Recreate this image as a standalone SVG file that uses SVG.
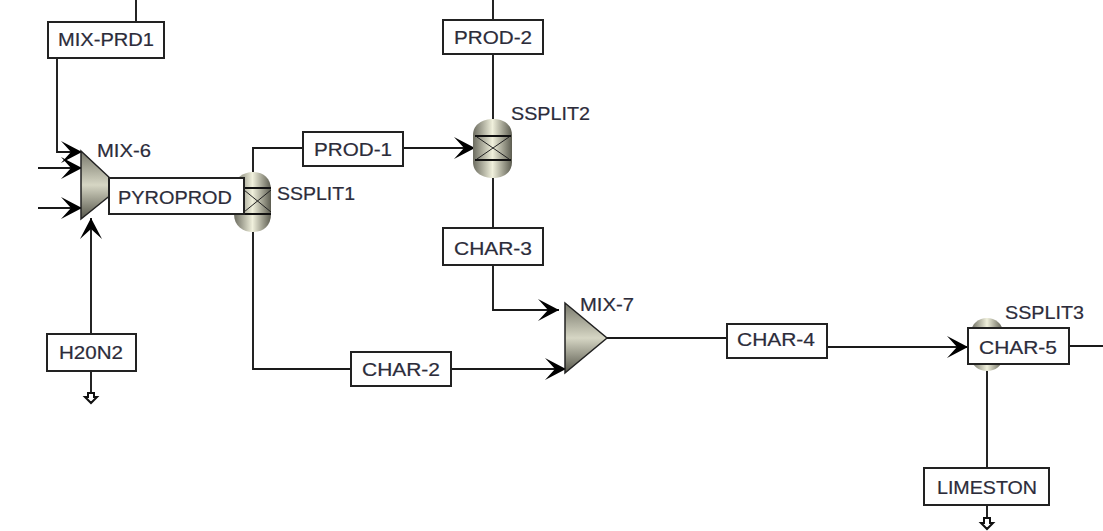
<svg xmlns="http://www.w3.org/2000/svg" width="1103" height="531" viewBox="0 0 1103 531">
<style>
.c{fill:none;stroke:#1a1a1a;stroke-width:1.9}
.b{fill:#fff;stroke:#222;stroke-width:2}
.t{font-family:"Liberation Sans",Arial,sans-serif;font-size:18.5px;fill:#2c2c3a;text-anchor:middle;stroke:#2c2c3a;stroke-width:.2}
.l{font-family:"Liberation Sans",Arial,sans-serif;font-size:18.5px;fill:#2c2c3a;stroke:#2c2c3a;stroke-width:.2}
.k{fill:none;stroke:#111;stroke-width:1.8}
.x{fill:none;stroke:#222;stroke-width:1}
.o{fill:#fff;stroke:#111;stroke-width:2}
</style>
<defs>
<marker id="a" markerUnits="userSpaceOnUse" markerWidth="26" markerHeight="28" refX="24" refY="13" orient="auto">
<path d="M3 2L24 13L3 24L13 13Z" fill="#000"/>
</marker>
<linearGradient id="m" x1="0" y1="0" x2="0" y2="1">
<stop offset="0" stop-color="#77776a"/><stop offset=".5" stop-color="#d6d6c4"/><stop offset="1" stop-color="#55554a"/>
</linearGradient>
<linearGradient id="v" x1="0" y1="0" x2="1" y2="0">
<stop offset="0" stop-color="#6c6c60"/><stop offset=".5" stop-color="#f0f0dc"/><stop offset="1" stop-color="#5c5c50"/>
</linearGradient>
</defs>
<g id="connectors">
<path class="c" d="M136 0V22"/>
<path class="c" d="M57 58V152H82" marker-end="url(#a)"/>
<path class="c" d="M38 168H82" marker-end="url(#a)"/>
<path class="c" d="M38 208H82" marker-end="url(#a)"/>
<path class="c" d="M91 334V218" marker-end="url(#a)"/>
<path class="c" d="M91 371V392"/>
<path class="c" d="M253 172V148H303"/>
<path class="c" d="M403 148H475" marker-end="url(#a)"/>
<path class="c" d="M493 0V20M493 54V119M493 178V228"/>
<path class="c" d="M493 265V310H559" marker-end="url(#a)"/>
<path class="c" d="M253 232V369H351"/>
<path class="c" d="M451 369H566" marker-end="url(#a)"/>
<path class="c" d="M607 338H727"/>
<path class="c" d="M827 347H968" marker-end="url(#a)"/>
<path class="c" d="M1069 346H1103"/>
<path class="c" d="M987 370V468M987 505V518"/>
<path class="o" d="M88 393H94V397H97L91 403L85 397H88Z"/>
<path class="o" d="M984 518H990V523H993L987 529L981 523H984Z"/>
</g>
<g id="MIX-6">
<path d="M81 151L112 180V194L81 219Z" fill="url(#m)" stroke="#222" stroke-width="1.5"/>
<text class="l" x="97" y="157" textLength="54" lengthAdjust="spacingAndGlyphs">MIX-6</text>
</g>
<g id="MIX-7">
<path d="M565 303L607 338L565 373Z" fill="url(#m)" stroke="#222" stroke-width="1.5"/>
<text class="l" x="580" y="311" textLength="54" lengthAdjust="spacingAndGlyphs">MIX-7</text>
</g>
<g id="SSPLIT1">
<path d="M234 190C234 178 243 172 253 172C263 172 271 178 271 190V214C271 226 263 232 253 232C243 232 234 226 234 214Z" fill="url(#v)"/>
<path class="k" d="M244 188H271M244 214H271"/>
<path class="x" d="M244 190L271 212M244 212L271 190"/>
<text class="l" x="277" y="200" textLength="78" lengthAdjust="spacingAndGlyphs">SSPLIT1</text>
</g>
<g id="SSPLIT2">
<path d="M473 135C473 124 483 119 493 119C503 119 512 124 512 135V162C512 173 503 178 493 178C483 178 473 173 473 162Z" fill="url(#v)"/>
<path class="k" d="M475 136H511M475 160H511"/>
<path class="x" d="M477 137L509 159M477 159L509 137"/>
<text class="l" x="511" y="120" textLength="79" lengthAdjust="spacingAndGlyphs">SSPLIT2</text>
</g>
<g id="SSPLIT3">
<path d="M971 334C971 323 979 318 987 318C995 318 1003 323 1003 334V356C1003 366 995 371 987 371C979 371 971 366 971 356Z" fill="url(#v)"/>
<text class="l" x="1005" y="319" textLength="79" lengthAdjust="spacingAndGlyphs">SSPLIT3</text>
</g>
<g id="MIX-PRD1"><rect class="b" x="48" y="22" width="116" height="36"/><text class="t" x="106" y="46" textLength="96" lengthAdjust="spacingAndGlyphs">MIX-PRD1</text></g>
<g id="PROD-2"><rect class="b" x="443" y="20" width="100" height="34"/><text class="t" x="493" y="44" textLength="78" lengthAdjust="spacingAndGlyphs">PROD-2</text></g>
<g id="PROD-1"><rect class="b" x="303" y="132" width="100" height="34"/><text class="t" x="353" y="156" textLength="78" lengthAdjust="spacingAndGlyphs">PROD-1</text></g>
<g id="PYROPROD"><rect class="b" x="109" y="178" width="135" height="36"/><text class="t" x="175" y="204" textLength="114" lengthAdjust="spacingAndGlyphs">PYROPROD</text></g>
<g id="H20N2"><rect class="b" x="47" y="334" width="89" height="37"/><text class="t" x="91" y="359" textLength="64" lengthAdjust="spacingAndGlyphs">H20N2</text></g>
<g id="CHAR-2"><rect class="b" x="351" y="352" width="100" height="34"/><text class="t" x="401" y="376" textLength="78" lengthAdjust="spacingAndGlyphs">CHAR-2</text></g>
<g id="CHAR-3"><rect class="b" x="443" y="228" width="100" height="37"/><text class="t" x="493" y="255" textLength="78" lengthAdjust="spacingAndGlyphs">CHAR-3</text></g>
<g id="CHAR-4"><rect class="b" x="727" y="324" width="100" height="34"/><text class="t" x="776" y="346" textLength="78" lengthAdjust="spacingAndGlyphs">CHAR-4</text></g>
<g id="CHAR-5"><rect class="b" x="968" y="328" width="101" height="36"/><text class="t" x="1018" y="354" textLength="78" lengthAdjust="spacingAndGlyphs">CHAR-5</text></g>
<g id="LIMESTON"><rect class="b" x="924" y="468" width="125" height="37"/><text class="t" x="987" y="494" textLength="100" lengthAdjust="spacingAndGlyphs">LIMESTON</text></g>
</svg>
